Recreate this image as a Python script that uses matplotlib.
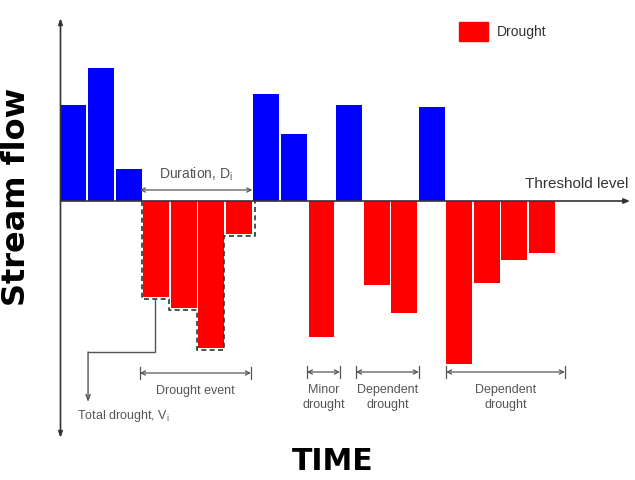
import numpy as np
import matplotlib
matplotlib.use("Agg")
import matplotlib.pyplot as plt
from matplotlib.patches import Patch

# stream flow relative to threshold (arbitrary units), one value per time step
flow = [96, 133, 32, -96, -107, -147, -33, 107, 67, -136,
        96, -84, -112, 94, -163, -82, -59, -52]

# annotated spans (in time steps)
event_span = (2.88, 6.91)
brackets = [
    ((8.94, 10.14), "Minor\ndrought"),
    ((10.72, 13.0), "Dependent\ndrought"),
    ((13.99, 18.3), "Dependent\ndrought"),
]
event_bars = [3, 4, 5, 6]

BLUE = "#0000ff"
RED = "#ff0000"
GRAY = "#555555"

plt.rcParams["font.family"] = ["Liberation Sans", "DejaVu Sans"]

fig = plt.figure(figsize=(6.35, 4.8), dpi=100)
ax = fig.add_axes([0, 0, 1, 1])
ax.set_xlim(-2.195, 20.845)
ax.set_ylim(-279, 201)
ax.axis("off")

x = np.arange(len(flow))
colors = [BLUE if v > 0 else RED for v in flow]
ax.bar(x, flow, width=0.94, align="edge", color=colors, zorder=2)

# axes drawn as arrows
ax.annotate("", xy=(0, 183), xytext=(0, -237),
            arrowprops=dict(arrowstyle="<|-|>,head_length=0.35,head_width=0.12",
                            color="#333333", lw=1.2, shrinkA=0, shrinkB=0))
ax.annotate("", xy=(20.66, 0), xytext=(0, 0),
            arrowprops=dict(arrowstyle="-|>,head_length=0.35,head_width=0.15",
                            color="#333333", lw=1.2, shrinkA=0, shrinkB=0), zorder=3)
ax.text(20.6, 10, "Threshold level", ha="right", va="bottom", fontsize=11, color="#333333")

# dashed outline around the drought event
dx, dy = 0.06, 1.5
px, py = [event_bars[0] - dx], [0]
for i in event_bars:
    v = flow[i] - dy
    px += [px[-1], i + 1 - (dx if i != event_bars[-1] else -dx)]
    py += [v, v]
px.append(px[-1])
py.append(0)
ax.plot(px, py, ls=(0, (3, 2)), color="#333333", lw=1.2, zorder=3)

# duration arrow
ax.annotate("", xy=(6.96, 11), xytext=(2.88, 11),
            arrowprops=dict(arrowstyle="<->,head_length=0.3,head_width=0.15",
                            color=GRAY, lw=0.9, shrinkA=0, shrinkB=0))
ax.text(4.92, 18, "Duration, D$_\\mathregular{i}$", ha="center", va="bottom",
        fontsize=10, color=GRAY)

# total drought callout
ax.plot([3.43, 3.43, 1.0], [flow[3] - 3, -151, -151], color=GRAY, lw=1)
ax.annotate("", xy=(1.0, -201), xytext=(1.0, -151),
            arrowprops=dict(arrowstyle="->,head_length=0.4,head_width=0.15",
                            color=GRAY, lw=1, shrinkA=0, shrinkB=0))
ax.text(0.6, -215, "Total drought, V$_\\mathregular{i}$", ha="left", va="center",
        fontsize=9, color=GRAY)


def bracket(x0, x1, y, label):
    ax.annotate("", xy=(x1, y), xytext=(x0, y),
                arrowprops=dict(arrowstyle="<->,head_length=0.3,head_width=0.15",
                                color=GRAY, lw=0.9, shrinkA=0, shrinkB=0))
    for xx in (x0, x1):
        ax.plot([xx, xx], [y - 6, y + 6], color=GRAY, lw=0.9)
    ax.text((x0 + x1) / 2, y - 12, label, ha="center", va="top", fontsize=9,
            color=GRAY, linespacing=1.35)


bracket(*event_span, -172, "Drought event")
for (a, b), lab in brackets:
    bracket(a, b, -171, lab)

ax.legend(handles=[Patch(color=RED, label="Drought")], loc="upper left",
          bbox_to_anchor=(459 / 635, 1 - 22 / 480), frameon=False,
          borderpad=0, borderaxespad=0, handlelength=2.1, handleheight=1.75,
          handletextpad=0.65, prop=dict(size=10), labelcolor="#333333")

fig.text(17 / 635, 1 - 197 / 480, "Stream flow", rotation=90, ha="center", va="center",
         fontsize=23, fontweight="bold", family="DejaVu Sans")
fig.text(333 / 635, 1 - 461 / 480, "TIME", ha="center", va="center",
         fontsize=21.5, fontweight="bold", family="DejaVu Sans")

fig.savefig("out.png", dpi=100)
